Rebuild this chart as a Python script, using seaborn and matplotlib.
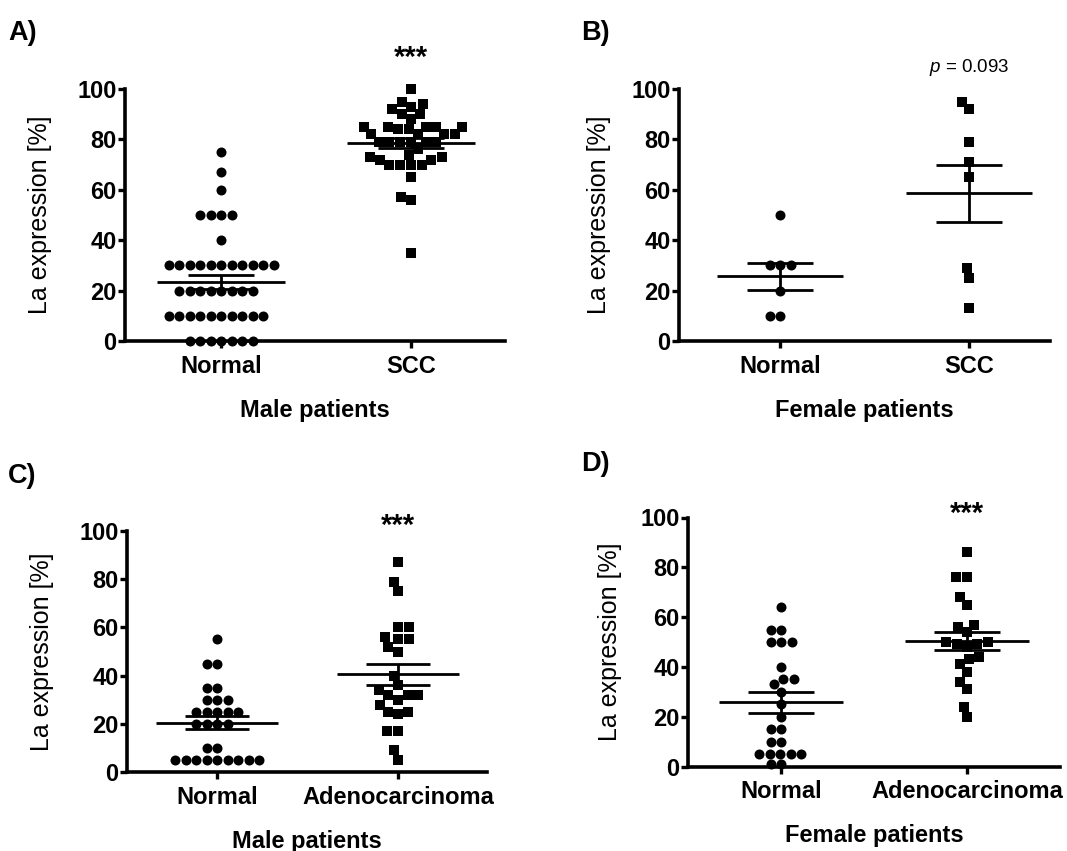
import matplotlib
matplotlib.use("Agg")
import matplotlib.pyplot as plt
import seaborn as sns
import numpy as np
import pandas as pd
import warnings
warnings.filterwarnings("ignore")

sns.set_theme(style="white")
plt.rcParams['font.family'] = ['Liberation Sans', 'DejaVu Sans']
plt.rcParams['mathtext.fontset'] = 'custom'
plt.rcParams['mathtext.it'] = 'Liberation Sans:italic'
plt.rcParams['mathtext.rm'] = 'Liberation Sans'

# ---------------- data ----------------
groups_scc = ["Normal", "SCC"]
groups_adeno = ["Normal", "Adenocarcinoma"]

male_scc_normal = [75, 67, 60, 50, 50, 50, 50, 40,
                   30, 30, 30, 30, 30, 30, 30, 30, 30, 30, 30,
                   20, 20, 20, 20, 20, 20, 20, 20,
                   10, 10, 10, 10, 10, 10, 10, 10, 10, 10,
                   0, 0, 0, 0, 0, 0, 0]
male_scc_tumor = [100, 95, 94, 93, 92, 90, 90, 88, 85, 85, 85, 85, 85,
                  84, 84, 82, 82, 82, 82, 79, 79, 79, 79, 79, 79,
                  76, 74, 73, 73, 72, 72, 70, 70, 70, 70, 65, 57, 56, 35]

female_scc_normal = [50, 30, 30, 30, 20, 10, 10]
female_scc_tumor = [95, 92, 79, 71, 65, 29, 25, 13]

male_adeno_normal = [55, 45, 45, 35, 35, 30, 30, 30, 25, 25, 25, 25, 25,
                     20, 20, 20, 20, 10, 10, 5, 5, 5, 5, 5, 5, 5, 5, 5]
male_adeno_tumor = [87, 79, 75, 60, 60, 56, 55, 55, 52, 50, 40, 36, 34,
                    30, 32, 32, 32, 28, 25, 24, 25, 17, 17, 9, 5]

female_adeno_normal = [64, 55, 55, 50, 50, 50, 40, 35, 35, 33, 30, 25, 20,
                       15, 15, 10, 10, 5, 5, 5, 5, 5, 1, 1]
female_adeno_tumor = [86, 76, 76, 68, 65, 57, 56, 54, 50, 50, 49, 49, 48,
                      44, 43, 41, 38, 34, 31, 24, 20]

yticks = [0, 20, 40, 60, 80, 100]
ylabel = "La expression [%]"

panels = [
    dict(letter="A)", groups=groups_scc, data=[male_scc_normal, male_scc_tumor],
         xlabel="Male patients", sig="***"),
    dict(letter="B)", groups=groups_scc, data=[female_scc_normal, female_scc_tumor],
         xlabel="Female patients", sig=r"$p$ = 0.093"),
    dict(letter="C)", groups=groups_adeno, data=[male_adeno_normal, male_adeno_tumor],
         xlabel="Male patients", sig="***"),
    dict(letter="D)", groups=groups_adeno, data=[female_adeno_normal, female_adeno_tumor],
         xlabel="Female patients", sig="***"),
]

# ---------------- layout (pixels) ----------------
W, H = 1067, 851
layout = [
    dict(left=125, right=505, y0=341, y100=89, t0=221, t1=411, ylab=52, letter=(8, 33), sig_y=58, sig_size=21, sig_bold=True),
    dict(left=679, right=1050, y0=341, y100=89, t0=780, t1=969, ylab=611, letter=(581, 33), sig_y=67, sig_size=13.5, sig_bold=False),
    dict(left=127, right=487, y0=772, y100=531, t0=217, t1=398, ylab=54, letter=(8, 476), sig_y=526, sig_size=21, sig_bold=True),
    dict(left=688, right=1060, y0=766.5, y100=517.5, t0=781, t1=967, ylab=622, letter=(581, 464), sig_y=514, sig_size=21, sig_bold=True),
]

fig = plt.figure(figsize=(W / 100, H / 100), dpi=100)

for p, lay in zip(panels, layout):
    L, R, y0, y100 = lay["left"], lay["right"], lay["y0"], lay["y100"]
    ax = fig.add_axes([L / W, 1 - y0 / H, (R - L) / W, (y0 - y100) / H])
    g0, g1 = p["groups"]
    d0, d1 = p["data"]
    df = pd.DataFrame({"group": [g0] * len(d0) + [g1] * len(d1),
                       "value": d0 + d1})
    sns.swarmplot(data=df[df["group"] == g0], x="group", y="value", order=[g0, g1],
                  marker="o", color="black", size=7.2, linewidth=0, ax=ax)
    sns.swarmplot(data=df[df["group"] == g1], x="group", y="value", order=[g0, g1],
                  marker="s", color="black", size=7.4, linewidth=0, ax=ax)
    for c in ax.collections:
        c.set_clip_on(False)

    # mean +/- SEM
    for i, vals in enumerate([d0, d1]):
        v = np.asarray(vals, dtype=float)
        m = v.mean()
        se = v.std(ddof=1) / np.sqrt(len(v))
        ax.hlines(m, i - 0.335, i + 0.335, color="black", lw=2.0, zorder=5, clip_on=False)
        ax.hlines([m - se, m + se], i - 0.175, i + 0.175, color="black", lw=2.0, zorder=5, clip_on=False)
        ax.vlines(i, m - se, m + se, color="black", lw=2.0, zorder=5, clip_on=False)

    sp = lay["t1"] - lay["t0"]
    ax.set_xlim((L - lay["t0"]) / sp, (R - lay["t0"]) / sp)
    ax.set_ylim(0, 100)
    ax.set_yticks(yticks)
    ax.set_xticks([0, 1])
    ax.set_xticklabels([g0, g1])
    sns.despine(ax=ax)
    for s in ["left", "bottom"]:
        ax.spines[s].set_linewidth(2.6)
        ax.spines[s].set_color("black")
        ax.spines[s].set_capstyle("projecting")
    ax.tick_params(axis="y", left=True, direction="out", length=5, width=2.4,
                   labelsize=17, pad=1, colors="black")
    ax.tick_params(axis="x", bottom=True, direction="out", length=5, width=2.4,
                   labelsize=17, pad=5, colors="black")
    for t in ax.get_yticklabels() + ax.get_xticklabels():
        t.set_fontweight("bold")
    ax.set_xlabel(p["xlabel"], fontsize=17, fontweight="bold", labelpad=15, color="black")
    ax.set_ylabel(ylabel, fontsize=18, color="black")
    ax.yaxis.set_label_coords((lay["ylab"] - L) / (R - L), 0.5)

    # significance text above tumour group
    fig.text(lay["t1"] / W, 1 - lay["sig_y"] / H, p["sig"], ha="center", va="center",
             fontsize=lay["sig_size"], color="black",
             fontweight="bold" if lay["sig_bold"] else "normal")
    # panel letter
    fig.text(lay["letter"][0] / W, 1 - lay["letter"][1] / H, p["letter"], ha="left",
             va="center", fontsize=19.5, fontweight="bold", color="black")

fig.savefig("out.png", dpi=100)
